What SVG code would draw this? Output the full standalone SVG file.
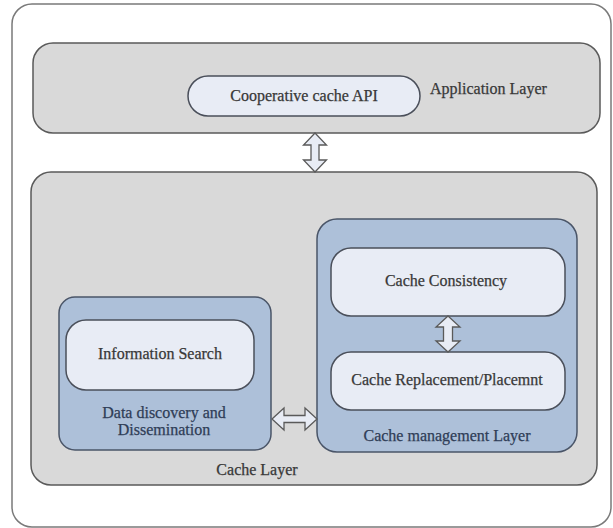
<svg xmlns="http://www.w3.org/2000/svg" width="613" height="528" viewBox="0 0 613 528">
<style>
text{font-family:"Liberation Serif","Times New Roman",serif;font-size:16px;fill:#383838;stroke:#383838;stroke-width:0.25;text-anchor:middle}
.layer{fill:#d9d9d9;stroke:#5a5a5a;stroke-width:1.5}
.blue{fill:#adc0d9;stroke:#4a5568;stroke-width:1.5}
.inner{fill:#e8ecf5;stroke:#4a4f5a;stroke-width:1.5}
.arrow{fill:#e8ecf5;stroke:#5a5a5a;stroke-width:1.3;stroke-linejoin:miter}
text.blt{fill:#2f3d57;stroke:#2f3d57}
</style>
<rect id="frame" x="12" y="4" width="599" height="523" rx="20" fill="#ffffff" stroke="#7a7a7a" stroke-width="1.5"/>
<g id="application-layer">
<rect class="layer" x="33" y="43" width="567" height="90" rx="20"/>
<text x="430" y="94" style="text-anchor:start">Application Layer</text>
</g>
<g id="api">
<rect class="inner" x="188" y="76" width="232" height="40" rx="20"/>
<text x="304" y="101">Cooperative cache  API</text>
</g>
<g id="cache-layer">
<rect class="layer" x="31" y="172" width="566" height="313" rx="20"/>
<text x="257" y="475">Cache Layer</text>
</g>
<g id="data-discovery">
<rect class="blue" x="59" y="297" width="212" height="153" rx="16"/>
<text class="blt" x="164" y="418">Data discovery and</text>
<text class="blt" x="164" y="435">Dissemination</text>
</g>
<g id="information-search">
<rect class="inner" x="66" y="320" width="188" height="70" rx="20"/>
<text x="160" y="359">Information Search</text>
</g>
<g id="cache-management">
<rect class="blue" x="317" y="219" width="260" height="233" rx="20"/>
<text class="blt" x="447" y="441">Cache management Layer</text>
</g>
<g id="cache-consistency">
<rect class="inner" x="331" y="248" width="234" height="68" rx="20"/>
<text x="446" y="286">Cache Consistency</text>
</g>
<g id="cache-replacement">
<rect class="inner" x="331" y="352" width="234" height="58" rx="20"/>
<text x="447" y="385">Cache Replacement/Placemnt</text>
</g>
<g id="connectors">
<path class="arrow" d="M315,133 L326.5,145 L319,145 L319,160 L326.5,160 L315,172 L303.5,160 L311,160 L311,145 L303.5,145 Z"/>
<path class="arrow" d="M448,316 L460,327 L452.5,327 L452.5,341 L460,341 L448,352 L436,341 L443.5,341 L443.5,327 L436,327 Z"/>
<path class="arrow" d="M272,419 L284,408 L284,415.5 L305,415.5 L305,408 L317,419 L305,430 L305,422.5 L284,422.5 L284,430 Z"/>
</g>
</svg>
